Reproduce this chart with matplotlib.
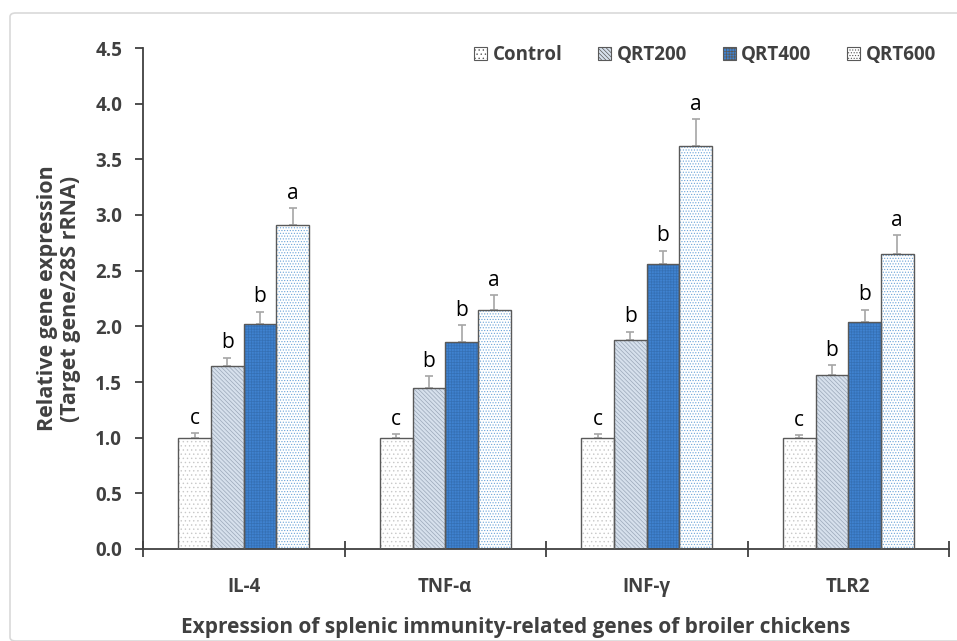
import matplotlib.pyplot as plt
import numpy as np
from matplotlib.patches import FancyBboxPatch, Patch

# data
genes = ['IL-4', 'TNF-α', 'INF-γ', 'TLR2']
groups = ['Control', 'QRT200', 'QRT400', 'QRT600']
control = [1.00, 1.00, 1.00, 1.00]
qrt200 = [1.64, 1.45, 1.88, 1.56]
qrt400 = [2.02, 1.86, 2.56, 2.04]
qrt600 = [2.91, 2.15, 3.62, 2.65]
err_control = [0.04, 0.03, 0.03, 0.02]
err_qrt200 = [0.08, 0.10, 0.07, 0.09]
err_qrt400 = [0.11, 0.15, 0.12, 0.11]
err_qrt600 = [0.15, 0.13, 0.24, 0.17]
letters = ['c', 'b', 'b', 'a']

values = [control, qrt200, qrt400, qrt600]
errors = [err_control, err_qrt200, err_qrt400, err_qrt600]

# fill, hatch pattern, hatch colour for each group
styles = [('white', '....', '#c8c8c8'),
          ('#d6e0ec', '\\' * 8, '#9aa7b8'),
          ('#3f82cf', '++++++', '#3570b4'),
          ('white', '......', '#6aa3d8')]

plt.rc('font', family=['Open Sans', 'DejaVu Sans'])
plt.rcParams['hatch.linewidth'] = 0.5
text_color = '#404040'

fig = plt.figure(figsize=[9.57, 6.41], dpi=100)
frame = FancyBboxPatch((10 / 957, 0), 1.2, (641 - 13) / 641, boxstyle='round,pad=0,rounding_size=0.006',
                       transform=fig.transFigure, facecolor='none', edgecolor='#d9d9d9', linewidth=1.2)
fig.patches.append(frame)

ax = fig.add_axes([143 / 957, 1 - 549 / 641, 806 / 957, 501 / 641])

x = np.arange(len(genes))
width = 0.162
for i, (vals, errs) in enumerate(zip(values, errors)):
    face, hatch, hcol = styles[i]
    pos = x + (i - 1.5) * width
    ax.bar(pos, vals, width, color=face, edgecolor=hcol, hatch=hatch, linewidth=0, zorder=2)
    ax.bar(pos, vals, width, color='none', edgecolor='#595959', linewidth=1.0, zorder=3)
    ax.errorbar(pos, vals, yerr=[np.zeros(len(errs)), errs], fmt='none', ecolor='#a6a6a6',
                elinewidth=1.2, capsize=3, capthick=1.2, zorder=1)
    for p, v, e in zip(pos, vals, errs):
        ax.text(p, v + e + 0.04, letters[i], ha='center', va='bottom', fontsize=15, color='black')

ax.set_xlim(-0.5, len(genes) - 0.5)
ax.set_ylim(0, 4.5)
ax.set_yticks(np.arange(0, 4.51, 0.5))
ax.set_yticklabels([f'{v:.1f}' for v in np.arange(0, 4.51, 0.5)])
ax.set_xticks(x)
ax.set_xticklabels(genes)
ax.set_xticks(np.arange(-0.5, len(genes)), minor=True)
ax.tick_params(axis='x', which='major', length=0, pad=20)
ax.tick_params(axis='x', which='minor', direction='inout', length=12, width=1.3, color=text_color)
ax.tick_params(axis='y', direction='out', length=6, width=1.3, color=text_color, pad=9)
for lab in ax.get_xticklabels() + ax.get_yticklabels():
    lab.set_fontweight('bold')
    lab.set_fontsize(13.5)
    lab.set_color(text_color)

for side in ['top', 'right']:
    ax.spines[side].set_visible(False)
for side in ['left', 'bottom']:
    ax.spines[side].set_color(text_color)
    ax.spines[side].set_linewidth(1.3)

ax.set_ylabel('Relative gene expression\n(Target gene/28S rRNA)', fontsize=15.5, fontweight='bold',
              color=text_color, labelpad=10, linespacing=1.15)
fig.text(516 / 957, 1 - 628 / 641, 'Expression of splenic immunity-related genes of broiler chickens',
         ha='center', va='center', fontsize=15, fontweight='bold', color=text_color)

handles = [Patch(facecolor=s[0], edgecolor=s[2], hatch=s[1], linewidth=0) for s in styles]
leg = ax.legend(handles, groups, loc='upper right', ncol=4, frameon=False, bbox_to_anchor=(1.005, 1.04),
                prop={'weight': 'bold', 'size': 13.5}, handlelength=0.7, handleheight=0.7,
                handletextpad=0.3, columnspacing=1.9)
for t in leg.get_texts():
    t.set_color(text_color)
for h in leg.legend_handles:
    h.set_edgecolor('#595959')
    h.set_linewidth(0.8)

plt.savefig('out.png', dpi=100)
